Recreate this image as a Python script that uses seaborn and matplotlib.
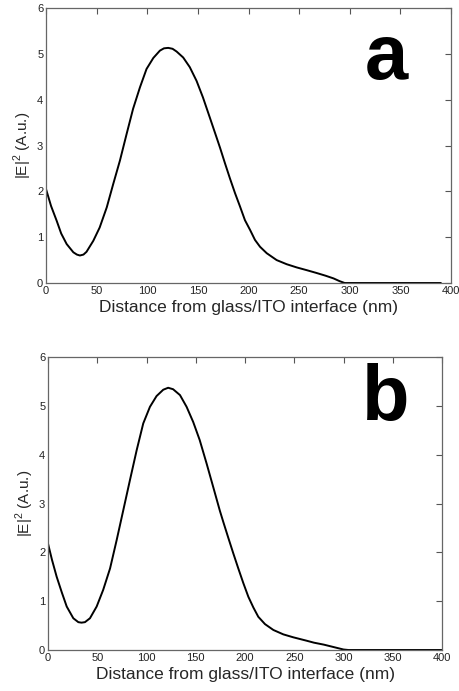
import matplotlib
matplotlib.use("Agg")
import matplotlib.pyplot as plt
import seaborn as sns
import pandas as pd

# Panel a data
xa = [0, 5, 10.5, 15, 20.4, 27, 30.5, 33.5, 37, 40, 46.7, 53, 60, 66.4, 73, 79.6, 86, 92.8, 99.3, 106, 112.5,
      116.5, 120.7, 125, 129, 135.5, 142, 148.7, 155, 161.8, 168.4, 171.9, 176.8, 181.7, 186.7, 191.6,
      196.5, 201.5, 206.4, 211.4, 218, 227.8, 237.7, 247.6, 257.5, 267, 276, 284, 290, 295, 320, 350, 390]
ya = [2.05, 1.68, 1.36, 1.08, 0.85, 0.67, 0.62, 0.60, 0.62, 0.68, 0.92, 1.21, 1.65, 2.16, 2.67, 3.25, 3.80, 4.27,
      4.67, 4.91, 5.07, 5.12, 5.13, 5.11, 5.05, 4.92, 4.71, 4.41, 4.05, 3.61, 3.18, 2.95, 2.61, 2.28,
      1.96, 1.67, 1.37, 1.16, 0.94, 0.79, 0.65, 0.50, 0.41, 0.34, 0.28, 0.22, 0.16, 0.10, 0.04, 0.0,
      0.0, 0.0, 0.0]

# Panel b data
xb = [0, 4, 8.8, 14, 19, 25.7, 30.8, 34, 37.5, 42.6, 49.4, 56, 63, 69.7, 76.4, 83.2, 90, 96.7, 103.5,
      110.2, 117, 122, 127, 134, 140.7, 147.4, 154, 161, 167.7, 174.5, 178, 183, 188.1, 193.2, 198.3,
      203.4, 208.5, 213.5, 220.3, 228.8, 238.9, 249, 262.6, 270, 280, 290, 300, 305, 350, 400]
yb = [2.18, 1.85, 1.50, 1.18, 0.89, 0.65, 0.57, 0.56, 0.57, 0.65, 0.89, 1.23, 1.67, 2.25, 2.86, 3.48,
      4.09, 4.64, 4.98, 5.20, 5.33, 5.37, 5.34, 5.22, 4.98, 4.67, 4.30, 3.82, 3.34, 2.85, 2.62, 2.30,
      1.98, 1.67, 1.37, 1.09, 0.87, 0.68, 0.53, 0.41, 0.32, 0.26, 0.19, 0.15, 0.11, 0.06, 0.01, 0.0,
      0.0, 0.0]

panel_labels = ["a", "b"]
xlabel = "Distance from glass/ITO interface (nm)"
ylabel = "|E|$^{2}$ (A.u.)"
xticks = [0, 50, 100, 150, 200, 250, 300, 350, 400]
yticks = [0, 1, 2, 3, 4, 5, 6]

sns.set_style("white")
plt.rcParams['font.family'] = ['Liberation Sans', 'DejaVu Sans']
plt.rcParams['mathtext.fontset'] = 'custom'
plt.rcParams['mathtext.rm'] = 'Liberation Sans'

W, H = 459, 691
fig = plt.figure(figsize=(W / 100, H / 100), dpi=100)
ax_a = fig.add_axes([46 / W, 1 - 283 / H, 405 / W, 275 / H])
ax_b = fig.add_axes([48 / W, 1 - 650 / H, 394 / W, 293 / H])

dfa = pd.DataFrame({"x": xa, "y": ya})
dfb = pd.DataFrame({"x": xb, "y": yb})

label_pos = [(386.5, 79), (386, 420)]

for ax, df, lab, (lx, ly) in [(ax_a, dfa, panel_labels[0], label_pos[0]),
                              (ax_b, dfb, panel_labels[1], label_pos[1])]:
    sns.lineplot(data=df, x="x", y="y", ax=ax, color="black", linewidth=1.4)
    ax.set_xlim(0, 400)
    ax.set_ylim(0, 6)
    ax.set_xticks(xticks)
    ax.set_yticks(yticks)
    ax.tick_params(direction="in", length=4, width=0.8, color="#555555",
                   top=True, right=True, labelsize=8, pad=2, labelcolor="#222222")
    for s in ax.spines.values():
        s.set_color("#666666")
        s.set_linewidth(0.9)
    ax.set_xlabel(xlabel, fontsize=12.5, labelpad=3)
    ax.set_ylabel(ylabel, fontsize=11, labelpad=2)
    fig.text(lx / W, 1 - ly / H, lab, fontsize=56, fontweight="bold",
             ha="center", va="baseline", color="black")

fig.savefig("out.png", dpi=100)
